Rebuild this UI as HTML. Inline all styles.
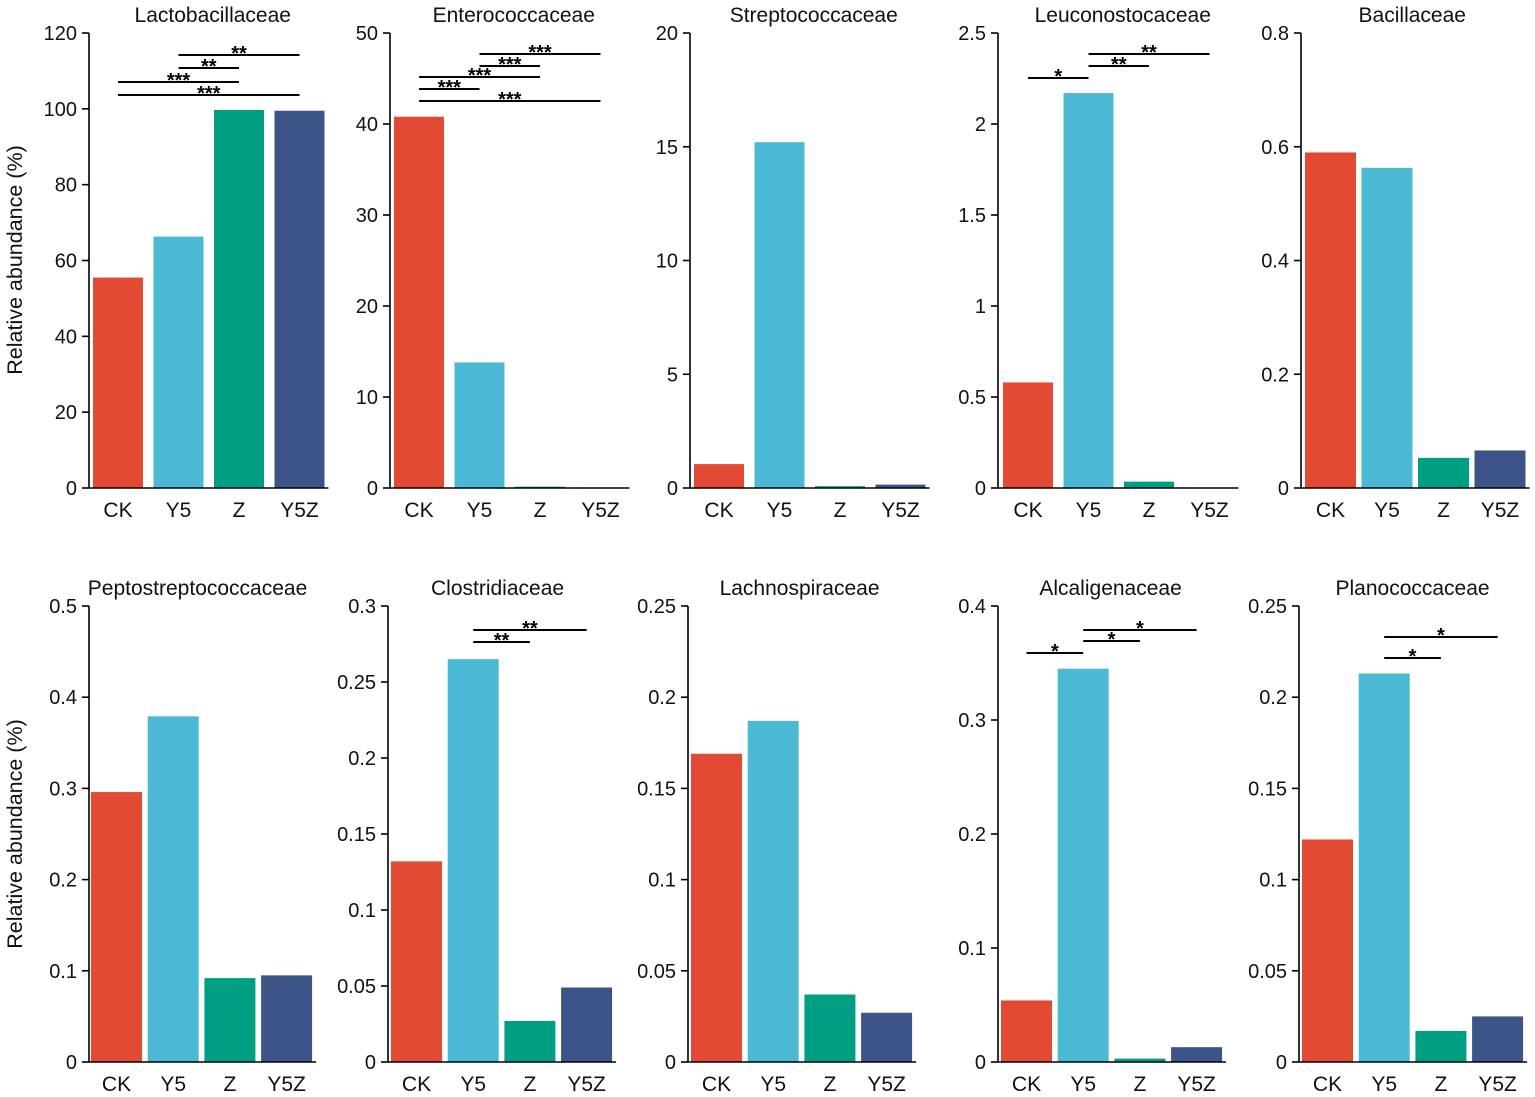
<!DOCTYPE html>
<html><head><meta charset="utf-8"><style>
body{margin:0;background:#fff}
svg{display:block;font-family:"Liberation Sans",Arial,sans-serif}
</style></head><body>
<svg id="chart" width="1535" height="1097" viewBox="0 0 1535 1097"></svg>
<script>
const groups = ["CK","Y5","Z","Y5Z"];
const colors = ["#E34A33","#4BB8D4","#009E82","#3C5488"];
const titles = ["Lactobacillaceae","Enterococcaceae","Streptococcaceae","Leuconostocaceae","Bacillaceae","Peptostreptococcaceae","Clostridiaceae","Lachnospiraceae","Alcaligenaceae","Planococcaceae"];
const values = [
 [55.5,66.3,99.7,99.5],
 [40.8,13.8,0.15,0.05],
 [1.05,15.2,0.08,0.15],
 [0.58,2.17,0.035,0],
 [0.59,0.563,0.053,0.066],
 [0.296,0.379,0.092,0.095],
 [0.132,0.265,0.027,0.049],
 [0.169,0.187,0.037,0.027],
 [0.054,0.345,0.003,0.013],
 [0.122,0.213,0.017,0.025]
];
const yMax = [120,50,20,2.5,0.8,0.5,0.3,0.25,0.4,0.25];
const yStep = [20,10,5,0.5,0.2,0.1,0.05,0.05,0.1,0.05];
// significance: [panel, fromBar, toBar, label, lineY]
const sig = [
 [0,1,3,"**",55],[0,1,2,"**",68],[0,0,2,"***",82],[0,0,3,"***",95],
 [1,1,3,"***",54],[1,1,2,"***",66],[1,0,2,"***",77],[1,0,1,"***",89],[1,0,3,"***",101],
 [3,1,3,"**",54],[3,1,2,"**",66],[3,0,1,"*",78],
 [6,1,3,"**",630],[6,1,2,"**",642],
 [8,1,3,"*",630],[8,1,2,"*",641],[8,0,1,"*",653],
 [9,1,3,"*",637],[9,1,2,"*",658]
];
// layout
const axisXs=[89,390,690,998,1301,89,388,688,998,1299];
const firstBar=[93,394,694,1003,1305,91,391,691,1001,1302];
const pitches=[60.5,60.5,60.5,60.5,56.5,56.7,56.7,56.7,56.7,56.7];
const titleShift=[0,0,0,0,-7,-8,-8,-6,-5,-4];
const NS="http://www.w3.org/2000/svg";
const svg=document.getElementById('chart');
function mk(tag,attrs,parent){const e=document.createElementNS(NS,tag);for(const k in attrs)e.setAttribute(k,attrs[k]);(parent||svg).appendChild(e);return e;}
function fmt(v){return String(+v.toFixed(3));}
const geo=[];
for(let p=0;p<10;p++){
  const row=p<5?0:1;
  const top=row?606:33, bot=row?1062:488;
  const pitch=pitches[p], bw=(pitch<58)?51:50;
  const ax=axisXs[p], fb=firstBar[p];
  const y=v=>bot-(v/yMax[p])*(bot-top);
  const g=mk('g',{});
  
  
  const cx=i=>fb+i*pitch+bw/2;
  geo.push({cx,row});
  values[p].forEach((v,i)=>{
    const r=mk('rect',{x:fb+i*pitch,y:y(v),width:bw,height:bot-y(v),fill:colors[i]},g);
    
    
    const t=mk('text',{x:cx(i),y:bot+29,'text-anchor':'middle','font-size':21,fill:'#111'},g);
    t.textContent=groups[i];
    
    
  });
  const right=fb+3*pitch+bw+4;
  const xa=mk('line',{x1:ax,y1:bot,x2:right,y2:bot,stroke:'#000','stroke-width':1.6},g);
  
  
  const ya=mk('line',{x1:ax,y1:top,x2:ax,y2:bot,stroke:'#000','stroke-width':1.6},g);
  
  
  const n=Math.round(yMax[p]/yStep[p]);
  for(let k=0;k<=n;k++){
    const v=k*yStep[p];
    mk('line',{x1:ax-7,y1:y(v),x2:ax,y2:y(v),stroke:'#000','stroke-width':1.6},g);
    const t=mk('text',{x:ax-12,y:y(v)+7,'text-anchor':'end','font-size':20,fill:'#111'},g);
    t.textContent=fmt(v);
    
    
  }
  const tt=mk('text',{x:(fb+right)/2+2+titleShift[p],y:top-11,'text-anchor':'middle','font-size':21,fill:'#111'},g);
  tt.textContent=titles[p];
  
  
}
sig.forEach(s=>{
  const [p,a,b,lab,ly]=s;const c=geo[p].cx;
  const l=mk('line',{x1:c(a),y1:ly,x2:c(b),y2:ly,stroke:'#000','stroke-width':2});
  
  
  const t=mk('text',{x:(c(a)+c(b))/2,y:ly+5,'text-anchor':'middle','font-size':20,'font-weight':'bold',fill:'#000'});
  t.textContent=lab;
  
  
});
[[260],[834]].forEach((c,i)=>{
  const t=mk('text',{x:22,y:c[0],'text-anchor':'middle','font-size':21.5,fill:'#111',transform:`rotate(-90 22 ${c[0]})`});
  t.textContent='Relative abundance (%)';
  
  
});
</script>
</body></html>
